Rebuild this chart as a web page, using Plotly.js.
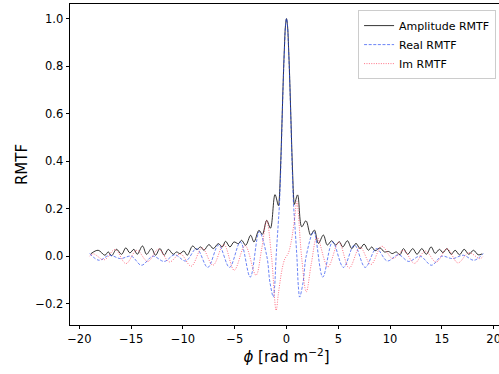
<!DOCTYPE html>
<html><head><meta charset="utf-8">
<script src="https://cdn.plot.ly/plotly-3.0.1.min.js"></script>
<style>html,body{margin:0;padding:0;overflow:hidden;background:#fff}#chart{width:520px;height:374px}</style>
</head><body><div id="chart"></div>
<script>
// Amplitude RMTF
const ampPhi = [-18.9,-18.18,-17.53,-17.21,-16.89,-16.41,-15.92,-15.51,-15.12,-14.73,-14.41,-13.9,-13.51,-13.03,-12.64,-12.22,-11.8,-11.42,-10.93,-10.61,-10.29,-9.9,-9.58,-9.06,-8.67,-8.29,-7.97,-7.49,-7.07,-6.58,-6.2,-5.88,-5.46,-5.07,-4.65,-4.33,-3.94,-3.46,-3.14,-2.66,-2.33,-1.91,-1.55,-1.11,-0.78,-0.7,-0.6,-0.5,-0.4,-0.3,-0.2,-0.1,0,
  0.1,0.2,0.3,0.4,0.5,0.6,0.7,0.76,1.07,1.47,1.88,2.33,2.69,3.08,3.56,3.94,4.36,4.75,5.1,5.43,5.88,6.3,6.71,7.1,7.49,7.9,8.23,8.55,9.03,9.45,9.85,10.2,10.6,10.95,11.29,11.7,12.19,12.6,13.06,13.5,13.96,14.35,14.77,15.1,15.48,15.9,16.28,16.7,17.15,17.6,18.05,18.5,18.9];
const ampVal = [0.01,0.025,0.004,0.018,0.002,0.029,0.008,0.035,0.014,0.029,0.008,0.043,0.008,0.032,0.004,0.032,0.004,0.029,0.008,0.018,0.011,0.022,0.004,0.043,0.028,0.039,0.025,0.049,0.032,0.053,0.039,0.063,0.039,0.06,0.053,0.067,0.046,0.088,0.06,0.109,0.092,0.151,0.118,0.259,0.213,0.24,0.34,0.47,0.62,0.76,0.88,0.97,1.0,
  0.97,0.88,0.76,0.62,0.47,0.34,0.24,0.218,0.258,0.124,0.149,0.089,0.11,0.054,0.089,0.047,0.065,0.047,0.061,0.039,0.065,0.032,0.054,0.032,0.051,0.025,0.039,0.023,0.035,0.018,0.02,0.011,0.018,0.006,0.032,0.008,0.032,0.008,0.032,0.008,0.039,0.012,0.029,0.015,0.032,0.008,0.025,0.006,0.029,0.008,0.025,0.006,0.01];

// Real RMTF
const rePhi = [-19.0,-18.1,-17.08,-16.03,-14.98,-14.0,-12.9,-11.8,-10.8,-9.73,-8.68,-7.6,-6.55,-5.5,-4.45,-3.5,-2.63,-1.9,-1.6,-1.27,-1.15,-1.0,-0.8,-0.69,-0.6,-0.5,-0.4,-0.3,-0.2,-0.1,0,
  0.1,0.2,0.3,0.4,0.5,0.6,0.69,0.8,1.0,1.15,1.27,1.6,1.9,2.63,3.5,4.45,5.5,6.55,7.6,8.68,9.73,10.8,11.8,12.9,14.0,14.98,16.03,17.08,18.1,19.0];
const reVal = [0.011,-0.017,0.004,-0.01,0.0,-0.038,0.0,-0.022,0.006,-0.02,0.032,-0.047,0.047,-0.047,0.06,-0.088,0.103,0.0,-0.11,-0.172,-0.13,0.0,0.135,0.21,0.31,0.45,0.61,0.75,0.87,0.965,1.0,
  0.965,0.87,0.75,0.61,0.45,0.31,0.21,0.135,0.0,-0.13,-0.172,-0.11,0.0,0.103,-0.088,0.06,-0.047,0.047,-0.047,0.032,-0.02,0.006,-0.022,0.0,-0.038,0.0,-0.01,0.004,-0.017,0.011];

// Imaginary RMTF
const imPhi = [-19.0,-18.65,-17.6,-16.55,-15.5,-14.45,-13.4,-12.35,-11.3,-10.25,-9.2,-8.15,-7.1,-6.05,-5.05,-4.0,-2.95,-2.4,-1.91,-1.45,-1.0,-0.79,-0.5,-0.3,-0.15,0,
  0.15,0.3,0.5,0.79,1.0,1.45,1.91,2.4,2.95,4.0,5.05,6.05,7.1,8.15,9.2,10.25,11.3,12.35,13.4,14.45,15.5,16.55,17.6,18.65,19.0];
const imVal = [0.0,0.01,-0.015,0.028,-0.031,0.025,-0.022,0.03,-0.024,0.01,-0.042,0.035,-0.038,0.05,-0.059,0.045,-0.08,0.03,0.15,0.0,-0.228,-0.16,-0.072,-0.03,-0.01,0.0,
  0.01,0.03,0.072,0.16,0.23,0.0,-0.15,-0.03,0.08,-0.045,0.059,-0.05,0.038,-0.035,0.042,-0.01,0.024,-0.03,0.022,-0.025,0.031,-0.028,0.015,-0.01,0.0];

const seriesNames = ['Amplitude RMTF','Real RMTF','Im RMTF'];
const xTickVals = [-20,-15,-10,-5,0,5,10,15,20];
const xTickText = ['\u221220','\u221215','\u221210','\u22125','0','5','10','15','20'];
const yTickVals = [-0.2,0,0.2,0.4,0.6,0.8,1.0];
const yTickText = ['\u22120.2','0.0','0.2','0.4','0.6','0.8','1.0'];

const font = 'DejaVu Sans, sans-serif';
const traces = [
  {x: ampPhi, y: ampVal, name: seriesNames[0], mode: 'lines',
   line: {color: '#000000', width: 0.8, shape: 'spline', smoothing: 1}},
  {x: rePhi, y: reVal, name: seriesNames[1], mode: 'lines',
   line: {color: 'rgba(20,60,240,0.75)', width: 0.85, dash: '3px,1.6px', shape: 'spline', smoothing: 1}},
  {x: imPhi, y: imVal, name: seriesNames[2], mode: 'lines',
   line: {color: 'rgba(255,30,60,0.7)', width: 0.9, dash: '1px,1.4px', shape: 'spline', smoothing: 1}}
];
const layout = {
  width: 520, height: 374,
  margin: {l: 70, r: 17, t: 4, b: 49},
  paper_bgcolor: '#ffffff', plot_bgcolor: '#ffffff',
  font: {family: font, color: '#000', size: 11},
  showlegend: true,
  legend: {x: 0.984, y: 0.981, xanchor: 'right', yanchor: 'top',
    bgcolor: 'rgba(255,255,255,0.8)', bordercolor: '#cccccc', borderwidth: 1,
    font: {family: font, size: 11, color: '#000'}},
  xaxis: {range: [-20.9, 20.9], showgrid: false, zeroline: false,
    showline: true, linecolor: '#000', linewidth: 0.8, mirror: true,
    ticks: 'outside', ticklen: 3.5, tickwidth: 0.8, tickcolor: '#000',
    tickvals: xTickVals, ticktext: xTickText, tickfont: {family: font, size: 11.5},
    title: {text: '<i>\u03d5</i> [rad m<sup>\u22122</sup>]', font: {family: font, size: 15}, standoff: 6}},
  yaxis: {range: [-0.2895, 1.0614], showgrid: false, zeroline: false,
    showline: true, linecolor: '#000', linewidth: 0.8, mirror: true,
    ticks: 'outside', ticklen: 3.5, tickwidth: 0.8, tickcolor: '#000',
    tickvals: yTickVals, ticktext: yTickText, tickfont: {family: font, size: 11.5},
    title: {text: 'RMTF', font: {family: font, size: 15}, standoff: 4}}
};
Plotly.newPlot('chart', traces, layout, {displayModeBar: false, responsive: false});
</script></body></html>
